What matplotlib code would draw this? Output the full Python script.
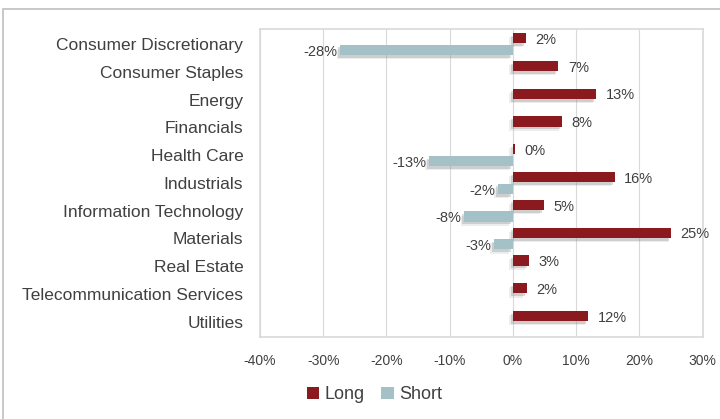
import numpy as np
import matplotlib.pyplot as plt
import matplotlib.patheffects as pe
from matplotlib.patches import Rectangle

plt.rcParams['font.family'] = ['Liberation Sans', 'DejaVu Sans']

sectores = ['Consumer Discretionary', 'Consumer Staples', 'Energy', 'Financials',
            'Health Care', 'Industrials', 'Information Technology', 'Materials',
            'Real Estate', 'Telecommunication Services', 'Utilities']
long_vals = [2.0, 7.2, 13.2, 7.8, 0.3, 16.1, 4.9, 25.0, 2.5, 2.2, 11.9]
long_lbls = ['2%', '7%', '13%', '8%', '0%', '16%', '5%', '25%', '3%', '2%', '12%']
short_vals = [-27.3, 0, 0, 0, -13.3, -2.4, -7.7, -3.0, 0, 0, 0]
short_lbls = ['-28%', None, None, None, '-13%', '-2%', '-8%', '-3%', None, None, None]

C_LONG = '#8B1A1F'
C_SHORT = '#A3C1C6'
C_TEXT = '#404040'
C_GRID = '#D9D9D9'

fig = plt.figure(figsize=(7.2, 4.19), dpi=100)
ax = fig.add_axes([0.361, 0.196, 0.615, 0.735])

y = np.arange(len(sectores))
h = 0.37
sombra = [pe.SimplePatchShadow(offset=(-1.5, -2.0), shadow_rgbFace='#8A8A8A', alpha=0.3),
          pe.SimplePatchShadow(offset=(-2.5, -3.0), shadow_rgbFace='#8A8A8A', alpha=0.15),
          pe.Normal()]

b1 = ax.barh(y - 0.21, long_vals, height=h, color=C_LONG, zorder=3, label='Long')
b2 = ax.barh(y + 0.21, short_vals, height=h, color=C_SHORT, zorder=3, label='Short')
for b in list(b1) + list(b2):
    b.set_path_effects(sombra)

for i, (v, t) in enumerate(zip(long_vals, long_lbls)):
    ax.text(v + 1.5, i - 0.15, t, ha='left', va='center', fontsize=10.5, color=C_TEXT)
for i, (v, t) in enumerate(zip(short_vals, short_lbls)):
    if t:
        ax.text(v - 0.4, i + 0.28, t, ha='right', va='center', fontsize=10.5, color=C_TEXT)

ax.set_xlim(-40, 30)
ax.set_ylim(10.54, -0.54)
ax.set_xticks(np.arange(-40, 31, 10))
ax.set_xticklabels([f'{t}%' for t in range(-40, 31, 10)], fontsize=10, color=C_TEXT)
ax.set_yticks(y)
ax.set_yticklabels(sectores, fontsize=12.5, color=C_TEXT)
ax.tick_params(length=0)
ax.tick_params(axis='x', pad=12)
ax.tick_params(axis='y', pad=12)
ax.grid(axis='x', color=C_GRID, linewidth=0.8, zorder=0)
ax.set_axisbelow(True)
for s in ax.spines.values():
    s.set_color(C_GRID)
    s.set_linewidth(1.2)

leg = fig.legend(handles=[b1, b2], labels=['Long', 'Short'], loc='center',
                 bbox_to_anchor=(0.52, 0.058), ncol=2, frameon=False,
                 fontsize=13, handlelength=0.7, handleheight=0.7,
                 handletextpad=0.3, columnspacing=0.9, labelcolor=C_TEXT)
for hnd in leg.legend_handles:
    hnd.set_path_effects([])

# marco exterior
fig.patches.append(Rectangle((0.004, -0.05), 1.1, 1.028, transform=fig.transFigure,
                             fill=False, edgecolor='#BFBFBF', linewidth=1.2))

fig.savefig('out.png', dpi=100)
